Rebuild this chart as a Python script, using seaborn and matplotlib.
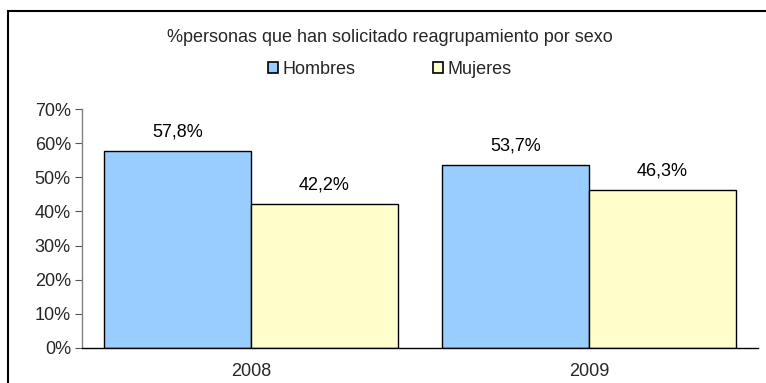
import matplotlib
matplotlib.use("Agg")
import matplotlib.pyplot as plt
import seaborn as sns
import pandas as pd
from matplotlib.patches import Rectangle, Patch

years = ["2008", "2009"]
hombres = [57.8, 53.7]
mujeres = [42.2, 46.3]
series_names = ["Hombres", "Mujeres"]
title = "%personas que han solicitado reagrupamiento por sexo"
y_ticks = [0, 10, 20, 30, 40, 50, 60, 70]

df = pd.DataFrame({
    "year": years * 2,
    "sexo": [series_names[0]] * len(years) + [series_names[1]] * len(years),
    "valor": hombres + mujeres,
})

sns.set_theme(style="white")
plt.rcParams["font.family"] = ["Liberation Sans", "DejaVu Sans"]
FS = 13

fig = plt.figure(figsize=(7.66, 3.83), dpi=100)
ax = fig.add_axes([82 / 766, 1 - 348 / 383, 676 / 766, 239 / 383])

palette = {"Hombres": "#99CCFF", "Mujeres": "#FFFFCC"}
sns.barplot(data=df, x="year", y="valor", hue="sexo", palette=palette,
            width=0.87, edgecolor="black", linewidth=1.0, saturation=1,
            ax=ax, legend=False)

for cont in ax.containers:
    for bar in cont:
        h = bar.get_height()
        ax.annotate(f"{h:.1f}%".replace(".", ","),
                    (bar.get_x() + bar.get_width() / 2, h),
                    xytext=(0, 7.5), textcoords="offset points",
                    ha="center", va="bottom", fontsize=FS, color="black")

ax.set_xlim(-0.5, 1.5)
ax.set_ylim(0, 70)
ax.set_yticks(y_ticks)
ax.set_yticklabels([f"{v}%" for v in y_ticks], fontsize=FS)
ax.set_xticks([0, 1])
ax.set_xticklabels(years, fontsize=FS)
ax.set_xticks([-0.5, 0.5, 1.5], minor=True)
ax.tick_params(axis="x", which="major", length=0, pad=11)
ax.tick_params(axis="x", which="minor", length=5, width=0.8, color="#555555", direction="out")
ax.tick_params(axis="y", length=5, width=0.8, color="#555555", direction="out", left=True, pad=3)
ax.set_xlabel("")
ax.set_ylabel("")

for side in ["top", "right"]:
    ax.spines[side].set_visible(False)
ax.spines["left"].set_color("#808080")
ax.spines["left"].set_linewidth(1.0)
ax.spines["bottom"].set_color("black")
ax.spines["bottom"].set_linewidth(1.0)

fig.text(390 / 766, 1 - 37 / 383, title, ha="center", va="center", fontsize=FS)

handles = [Patch(facecolor=palette[n], edgecolor="black", linewidth=1.2) for n in series_names]
fig.legend(handles, series_names, loc="center", bbox_to_anchor=(390 / 766, 1 - 69 / 383),
           ncol=2, frameon=False, fontsize=FS, handlelength=0.55, handleheight=0.55,
           handletextpad=0.25, columnspacing=4.3)

frame = Rectangle((8 / 766, -0.05), 1.0, 1 - 11 / 383 + 0.05,
                  transform=fig.transFigure, fill=False, edgecolor="black",
                  linewidth=1.5, clip_on=False)
fig.patches.append(frame)

fig.savefig("out.png", dpi=100)
